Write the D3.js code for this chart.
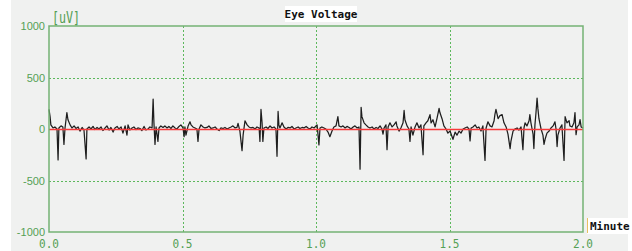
<!DOCTYPE html>
<html lang="en">
<head>
	<title>Eye Voltage</title>
	<script src="https://d3js.org/d3.v7.min.js" charset="utf-8"></script>
	<style>
		body{ margin: 0; background: #ffffff; }
		.ylab{ font: 11px "Liberation Sans Narrow", "Liberation Sans", sans-serif; fill: #55a055; }
		.xlab{ font: 13px "DejaVu Sans Mono", monospace; fill: #55a055; }
	</style>
</head>
<body>
	<script>
		// Time axis (minutes) and eye voltage (uV)
		var minutes = [0.000,0.004,0.007,0.015,0.022,0.030,0.034,0.037,0.045,0.052,0.056,0.060,0.067,0.071,0.079,0.086,0.094,0.101,0.109,0.116,0.124,0.131,0.139,0.142,0.150,0.157,0.165,0.172,0.180,0.187,0.195,0.202,0.210,0.217,0.225,0.232,0.240,0.247,0.255,0.262,0.270,0.277,0.285,0.292,0.296,0.303,0.311,0.318,0.326,0.333,0.341,0.348,0.356,0.363,0.371,0.378,0.386,0.390,0.393,0.397,0.401,0.408,0.412,0.419,0.427,0.434,0.442,0.449,0.457,0.464,0.472,0.479,0.487,0.494,0.502,0.506,0.509,0.513,0.521,0.528,0.532,0.539,0.547,0.554,0.558,0.562,0.569,0.577,0.584,0.592,0.599,0.607,0.614,0.622,0.629,0.637,0.644,0.652,0.659,0.667,0.674,0.682,0.689,0.697,0.704,0.708,0.715,0.723,0.727,0.734,0.742,0.749,0.757,0.764,0.772,0.779,0.787,0.790,0.794,0.798,0.801,0.805,0.813,0.820,0.828,0.835,0.843,0.850,0.854,0.858,0.861,0.865,0.873,0.880,0.888,0.895,0.903,0.910,0.918,0.925,0.933,0.940,0.948,0.955,0.963,0.970,0.978,0.985,0.993,1.000,1.004,1.007,1.011,1.015,1.022,1.030,1.037,1.045,1.052,1.060,1.067,1.075,1.082,1.086,1.094,1.101,1.109,1.116,1.124,1.131,1.139,1.146,1.154,1.161,1.165,1.169,1.172,1.180,1.187,1.195,1.202,1.210,1.217,1.225,1.232,1.240,1.247,1.251,1.255,1.262,1.266,1.270,1.277,1.285,1.292,1.300,1.303,1.311,1.318,1.326,1.330,1.333,1.341,1.348,1.352,1.356,1.363,1.371,1.378,1.386,1.393,1.401,1.404,1.412,1.419,1.427,1.431,1.438,1.446,1.453,1.461,1.464,1.472,1.479,1.487,1.494,1.502,1.509,1.513,1.521,1.528,1.536,1.543,1.551,1.558,1.566,1.573,1.577,1.581,1.588,1.596,1.603,1.610,1.618,1.625,1.633,1.637,1.644,1.652,1.659,1.667,1.670,1.674,1.682,1.689,1.697,1.704,1.712,1.719,1.727,1.730,1.738,1.745,1.753,1.760,1.768,1.775,1.779,1.783,1.790,1.798,1.801,1.805,1.813,1.816,1.820,1.824,1.828,1.831,1.835,1.843,1.850,1.854,1.858,1.865,1.873,1.880,1.888,1.895,1.899,1.903,1.906,1.914,1.921,1.929,1.933,1.940,1.948,1.951,1.959,1.966,1.970,1.974,1.978,1.985,1.989,1.993,2.000];

		var voltage = [190,120,40,10,20,0,-300,10,30,20,-150,10,160,90,40,10,30,5,20,-20,15,-10,-290,0,20,0,25,-5,15,0,20,-15,10,30,-10,15,-30,10,25,0,20,-40,30,-60,40,-10,10,20,-5,10,5,-15,25,-10,0,20,10,290,60,-150,20,-120,10,30,15,30,10,25,5,30,10,0,25,40,10,-75,20,-60,30,70,40,20,10,0,-120,0,40,20,10,15,30,5,10,20,0,-15,10,5,15,0,10,20,30,10,15,55,-20,-210,-60,80,40,20,10,15,0,20,10,-120,190,60,-120,10,20,5,30,10,20,0,-265,170,40,10,60,20,0,15,10,25,0,10,20,5,15,10,25,10,0,20,10,30,40,-40,-155,10,20,10,0,-30,-75,-20,20,30,120,30,20,30,10,25,15,0,20,30,10,20,-390,210,120,60,40,20,10,20,0,15,5,30,0,-50,10,40,-200,20,60,20,40,70,30,-20,10,60,180,90,30,0,-120,20,-60,20,60,10,40,-250,30,60,80,140,60,90,20,100,200,160,100,30,0,-40,-20,-70,-100,-30,-60,-20,-40,0,10,20,0,-115,10,20,40,10,20,-20,30,-305,10,70,30,20,80,140,190,100,130,140,60,20,-50,-190,-120,-20,0,10,-10,20,-200,10,60,30,80,140,60,-50,-190,40,160,300,200,100,0,-60,-150,-100,-40,-20,10,30,70,0,-170,-60,10,40,-305,120,60,80,30,20,60,160,-55,20,40,90,20,10];

		var xTicks = [0.0, 0.5, 1.0, 1.5, 2.0];
		var yTicks = [-1000, -500, 0, 500, 1000];

		var trace = minutes.map(function(t, i){ return {t: t, v: voltage[i]}; });

		var w = 632, h = 251;
		var plotL = 49, plotR = 583, plotT = 26, plotB = 232;
		var frameColor = "#74b274";

		var svg = d3.select("body")
			.append("svg")
			.attr("width", w)
			.attr("height", h);

		// grey panel
		svg.append("rect")
			.attr("x", 11).attr("y", 0)
			.attr("width", 617).attr("height", h)
			.attr("fill", "#f0f1f0");

		var xScale = d3.scaleLinear().domain([0, 2]).range([plotL, plotR]);
		var yScale = d3.scaleLinear().domain([-1000, 1000]).range([plotB, plotT]);

		// dotted grid
		svg.append("g")
			.selectAll("line")
			.data(xTicks.slice(1, -1))
			.enter()
			.append("line")
			.attr("x1", function(d){ return Math.round(xScale(d)) + 0.5; })
			.attr("x2", function(d){ return Math.round(xScale(d)) + 0.5; })
			.attr("y1", plotT).attr("y2", plotB)
			.attr("stroke", "#5cb85c")
			.attr("stroke-dasharray", "2,2");

		svg.append("g")
			.selectAll("line")
			.data([-500, 500])
			.enter()
			.append("line")
			.attr("y1", function(d){ return Math.round(yScale(d)) + 0.5; })
			.attr("y2", function(d){ return Math.round(yScale(d)) + 0.5; })
			.attr("x1", plotL).attr("x2", plotR)
			.attr("stroke", "#5cb85c")
			.attr("stroke-dasharray", "2,2");

		// the trace
		var line = d3.line()
			.x(function(d){ return xScale(d.t); })
			.y(function(d){ return yScale(d.v); });

		svg.append("path")
			.datum(trace)
			.attr("d", line)
			.attr("fill", "none")
			.attr("stroke", "#1e1e1e")
			.attr("stroke-width", 1.25)
			.attr("stroke-linejoin", "round");

		// zero line, drawn over the trace
		svg.append("line")
			.attr("x1", plotL).attr("x2", plotR)
			.attr("y1", yScale(0) + 0.5).attr("y2", yScale(0) + 0.5)
			.attr("stroke", "#f83a3a")
			.attr("stroke-width", 1.5);

		// frame
		svg.append("rect")
			.attr("x", plotL).attr("y", plotT)
			.attr("width", plotR - plotL).attr("height", plotB - plotT)
			.attr("fill", "none")
			.attr("stroke", frameColor)
			.attr("stroke-width", 1.5);

		// tick labels
		svg.append("g")
			.selectAll("text")
			.data(yTicks)
			.enter()
			.append("text")
			.attr("class", "ylab")
			.attr("x", plotL - 4)
			.attr("y", function(d){ return yScale(d) + 4; })
			.attr("text-anchor", "end")
			.text(function(d){ return d; });

		svg.append("g")
			.selectAll("text")
			.data(xTicks)
			.enter()
			.append("text")
			.attr("class", "xlab")
			.attr("transform", function(d){ return "translate(" + xScale(d) + ",248) scale(0.85,1)"; })
			.attr("text-anchor", "middle")
			.text(function(d){ return d.toFixed(1); });

		// unit label
		svg.append("text")
			.attr("transform", "translate(52,23) scale(0.78,1)")
			.attr("font-family", "'DejaVu Sans Mono', monospace")
			.attr("font-size", 15)
			.attr("fill", "#55a055")
			.text("[uV]");

		// title
		svg.append("rect")
			.attr("x", 285).attr("y", 6)
			.attr("width", 72).attr("height", 16)
			.attr("fill", "#ffffff");
		svg.append("text")
			.attr("x", 321).attr("y", 18)
			.attr("text-anchor", "middle")
			.attr("font-family", "'DejaVu Sans Mono', monospace")
			.attr("font-size", 11)
			.attr("font-weight", "bold")
			.attr("fill", "#111")
			.text("Eye Voltage");

		// x axis name
		svg.append("rect")
			.attr("x", 587).attr("y", 218)
			.attr("width", 41).attr("height", 16)
			.attr("fill", "#ffffff");
		svg.append("line")
			.attr("x1", 587.5).attr("x2", 587.5)
			.attr("y1", 218).attr("y2", 233)
			.attr("stroke", "#e8c060");
		svg.append("text")
			.attr("x", 590).attr("y", 230)
			.attr("font-family", "'DejaVu Sans Mono', monospace")
			.attr("font-size", 11)
			.attr("font-weight", "bold")
			.attr("fill", "#111")
			.text("Minute");
	</script>
</body>
</html>
